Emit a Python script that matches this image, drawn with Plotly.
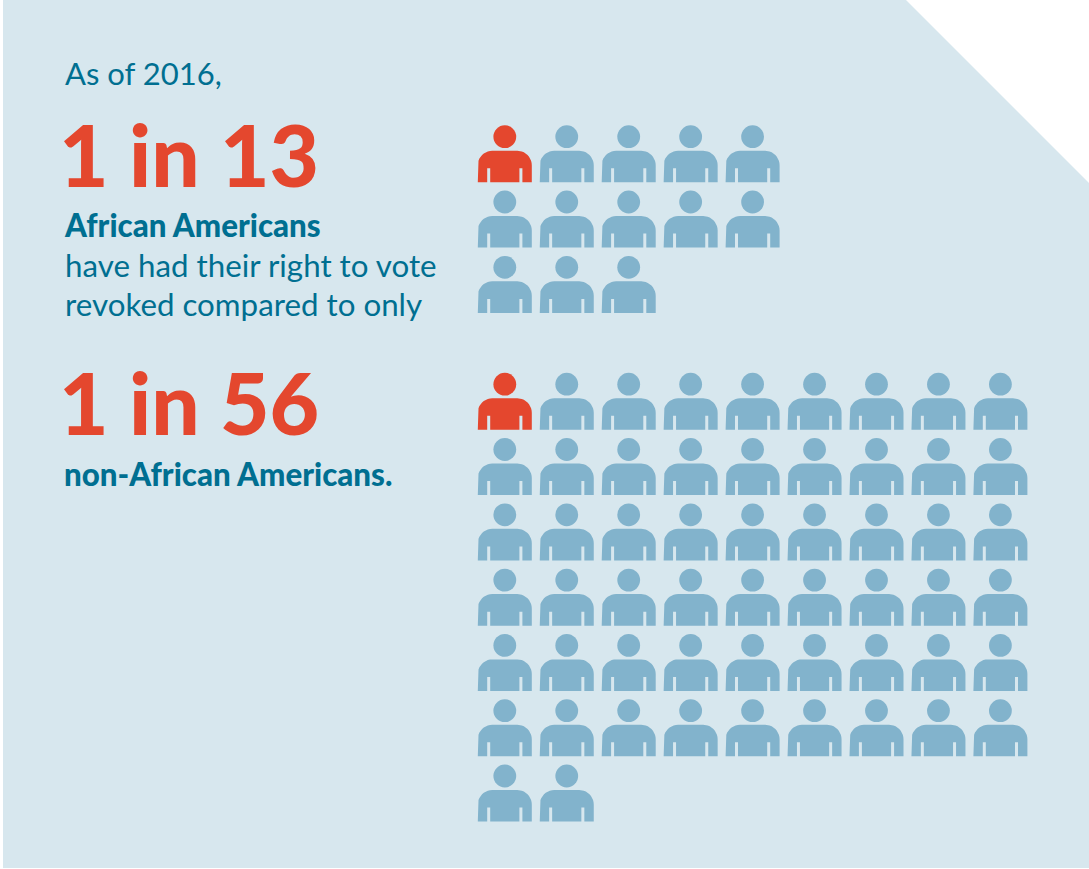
import math
import plotly.graph_objects as go

# Values shown by the two pictograms
groups = ["African Americans", "non-African Americans"]
people_per_group = [13, 56]
highlighted_people = [1, 1]
columns_per_group = [5, 9]
headlines = ["1 in 13", "1 in 56"]

WIDTH, HEIGHT = 1089, 869
PANEL = "#D7E7EE"
TEAL = "#006F91"
RED = "#E4472E"
BLUE = "#82B3CC"

# Pictogram layout, in page pixels
GRID_X = 504.8
GRID_Y = [136.7, 384.2]
PITCH_X = 61.95
PITCH_Y = 65.3
HEAD_SIZE = 22.8


def arc(cx, cy, r, start, end, steps=10):
    return [
        (cx + r * math.cos(math.radians(start + (end - start) * i / steps)),
         cy + r * math.sin(math.radians(start + (end - start) * i / steps)))
        for i in range(steps + 1)
    ]


def body_outline():
    """Torso with shoulders and two arm slits, relative to the head centre."""
    left, right, top, bottom = -27, 27, 14, 45.6
    r = 14.5
    slit_out, slit_in, slit_top = 17.6, 14.6, 31.6
    pts = [(left, bottom)]
    pts += arc(left + r, top + r, r, 180, 270)
    pts += arc(right - r, top + r, r, 270, 360)
    pts += [(right, bottom), (slit_out, bottom), (slit_out, slit_top),
            (slit_in, slit_top), (slit_in, bottom), (-slit_in, bottom),
            (-slit_in, slit_top), (-slit_out, slit_top), (-slit_out, bottom),
            (left, bottom)]
    return pts


OUTLINE = body_outline()


def person_seats(count, cols, origin_y):
    return [(GRID_X + (i % cols) * PITCH_X, origin_y + (i // cols) * PITCH_Y)
            for i in range(count)]


def add_people(fig, seats, color):
    xs, ys = [], []
    for sx, sy in seats:
        xs += [sx + p[0] for p in OUTLINE] + [None]
        ys += [sy + p[1] for p in OUTLINE] + [None]
    fig.add_trace(go.Scatter(x=xs, y=ys, mode="lines", fill="toself",
                             fillcolor=color, line=dict(width=0, color=color),
                             hoverinfo="skip", showlegend=False))
    fig.add_trace(go.Scatter(x=[s[0] for s in seats], y=[s[1] for s in seats],
                             mode="markers", hoverinfo="skip", showlegend=False,
                             marker=dict(size=HEAD_SIZE, color=color, line=dict(width=0))))


fig = go.Figure()

for count, marked, cols, oy in zip(people_per_group, highlighted_people,
                                   columns_per_group, GRID_Y):
    seats = person_seats(count, cols, oy)
    add_people(fig, seats[:marked], RED)
    add_people(fig, seats[marked:], BLUE)


def label(text, x, y, size, color, family="Lato", weight=400):
    fig.add_annotation(x=x, y=y, text=text, showarrow=False, xanchor="left",
                       yanchor="middle", align="left",
                       font=dict(family=family, size=size, color=color, weight=weight))


label("As of 2016,", 63, 73, 31, TEAL)
label(headlines[0], 57, 154, 85.5, RED, weight=900)
label(groups[0], 62, 225, 31.3, TEAL, weight=900)
label("have had their right to vote", 63, 265, 31.3, TEAL)
label("revoked compared to only", 63, 304, 31.3, TEAL)
label(headlines[1], 57, 402, 85.5, RED, weight=900)
label(groups[1] + ".", 62, 474, 31.3, TEAL, weight=900)

fig.update_layout(
    width=WIDTH, height=HEIGHT,
    margin=dict(l=0, r=0, t=0, b=0),
    paper_bgcolor="white", plot_bgcolor="white",
    xaxis=dict(range=[0, WIDTH], visible=False, fixedrange=True),
    yaxis=dict(range=[HEIGHT, 0], visible=False, fixedrange=True),
    shapes=[dict(type="path", layer="below", line=dict(width=0), fillcolor=PANEL,
                 path="M3,0 L906,0 L1089,183 L1089,868 L3,868 Z")],
)

fig.write_html("out.html", config={"displayModeBar": False})
